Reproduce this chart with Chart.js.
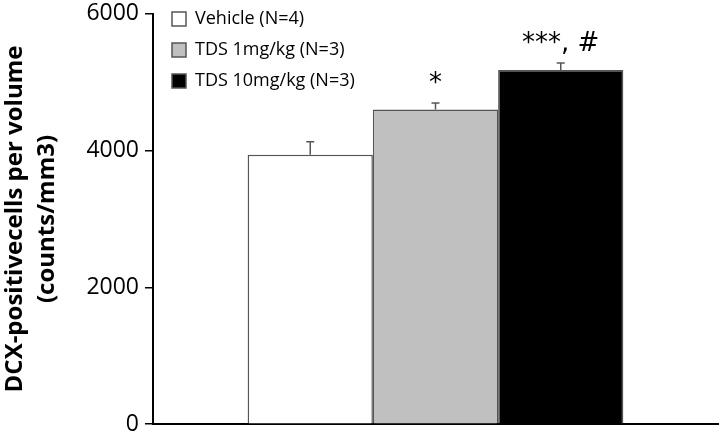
<!DOCTYPE html>
<html lang="en">
<head>
    <meta charset="UTF-8">
    <title>DCX-positive cells</title>
    <script src="https://cdn.jsdelivr.net/npm/chart.js"></script>
    <style>
        body {
            margin: 0;
            padding: 0;
            overflow: hidden;
            background-color: #ffffff;
        }

        /* canvas is a bit taller than the window so the plot fills it like the original */
        .box {
            position: relative;
            top: -6px;
            width: 721px;
            height: 450px;
        }
    </style>
</head>
<body>
    <div class="box">
        <canvas id="dcxChart"></canvas>
    </div>

    <script>
        // Data
        const groups = ['Vehicle (N=4)', 'TDS 1mg/kg (N=3)', 'TDS 10mg/kg (N=3)'];
        const means = [3940, 4600, 5180];
        const errors = [190, 95, 100];
        const marks = ['', '*', '***, #'];
        const fills = ['#ffffff', '#c0c0c0', '#000000'];
        const yTicks = [0, 2000, 4000, 6000];

        // Error bars and significance marks on top of each bar
        const errorBarPlugin = {
            id: 'errorBars',
            afterLayout(chart) {
                // nudge the legend a bit inside the plot, like the original
                chart.legend.left += 6;
                chart.legend.top += 3;
            },
            afterDatasetsDraw(chart) {
                const ctx = chart.ctx;
                const y = chart.scales.y;
                ctx.save();
                chart.data.datasets.forEach((ds, i) => {
                    const bar = chart.getDatasetMeta(i).data[0];
                    const top = y.getPixelForValue(means[i] + errors[i]);
                    const cx = bar.x;
                    ctx.strokeStyle = '#555555';
                    ctx.lineWidth = 1.5;
                    ctx.beginPath();
                    ctx.moveTo(cx, bar.y);
                    ctx.lineTo(cx, top);
                    ctx.moveTo(cx - 4, top);
                    ctx.lineTo(cx + 4, top);
                    ctx.stroke();
                    if (marks[i]) {
                        ctx.fillStyle = '#000000';
                        ctx.font = '26px "DejaVu Sans"';
                        ctx.textAlign = 'center';
                        ctx.textBaseline = 'bottom';
                        ctx.fillText(marks[i], cx, top - 6);
                    }
                });
                ctx.restore();
            }
        };

        const ctxDcx = document.getElementById('dcxChart').getContext('2d');
        const dcxChart = new Chart(ctxDcx, {
            type: 'bar',
            data: {
                labels: [''],
                datasets: groups.map((g, i) => ({
                    label: g,
                    data: [means[i]],
                    backgroundColor: fills[i],
                    borderColor: '#555555',
                    borderWidth: 1.5,
                    borderSkipped: 'bottom',
                    categoryPercentage: 0.665,
                    barPercentage: 1.0
                }))
            },
            options: {
                responsive: true,
                maintainAspectRatio: false,
                animation: false,
                layout: {
                    padding: { top: 0, right: 3, bottom: 0, left: 0 }
                },
                plugins: {
                    legend: {
                        position: 'chartArea',
                        align: 'start',
                        labels: {
                            color: '#000000',
                            font: { family: 'Open Sans', size: 18 },
                            boxWidth: 14,
                            boxHeight: 14,
                            padding: 13
                        }
                    },
                    tooltip: { enabled: false }
                },
                scales: {
                    x: {
                        afterFit(scale) { scale.height = 0; },
                        grid: { display: false, drawTicks: false },
                        border: { color: '#000000', width: 2 },
                        ticks: { display: false }
                    },
                    y: {
                        min: 0,
                        max: 6000,
                        afterFit(scale) { scale.width = 153; },
                        afterBuildTicks(scale) {
                            scale.ticks = yTicks.map(v => ({ value: v }));
                        },
                        grid: {
                            display: true,
                            drawOnChartArea: false,
                            drawTicks: true,
                            tickLength: 8,
                            color: '#000000',
                            lineWidth: 1.5
                        },
                        border: { color: '#000000', width: 2 },
                        ticks: {
                            color: '#000000',
                            font: { family: 'Open Sans', size: 23 },
                            padding: 6,
                            callback: v => String(v)
                        },
                        title: {
                            display: true,
                            text: ['DCX-positivecells per volume', '(counts/mm3)'],
                            color: '#000000',
                            font: { family: 'Open Sans', size: 24, weight: 'bold', lineHeight: 1.3 },
                            padding: { top: 0, bottom: 0 }
                        }
                    }
                }
            },
            plugins: [errorBarPlugin]
        });
    </script>
</body>
</html>
